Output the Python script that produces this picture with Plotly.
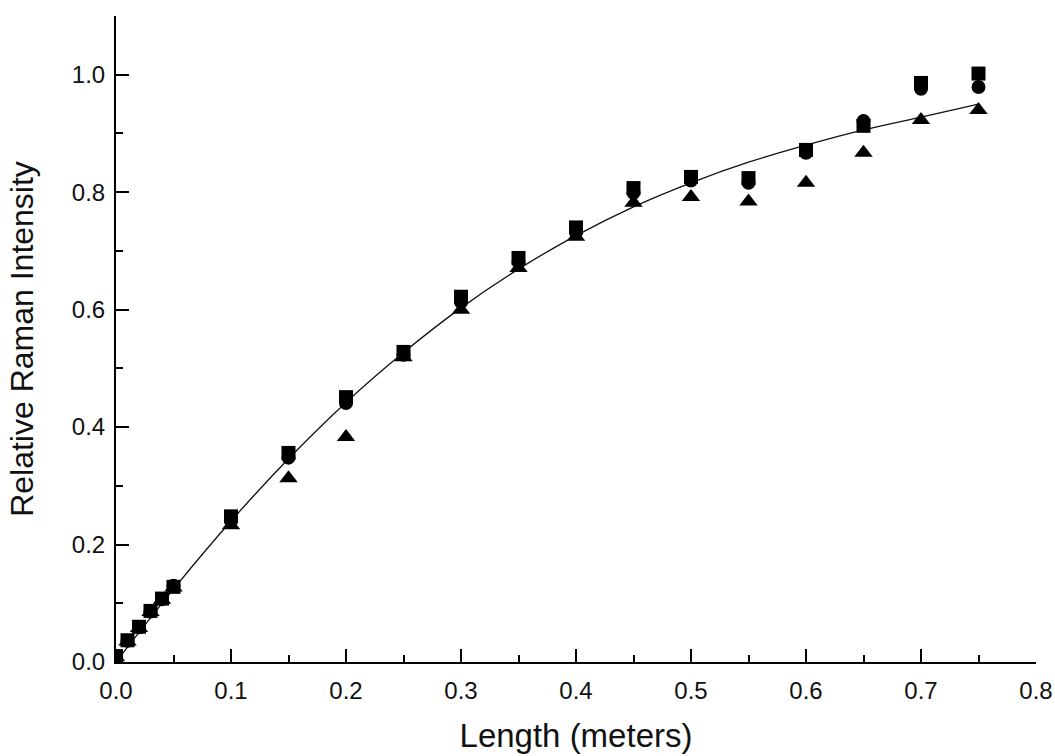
import plotly.graph_objects as go

# Lengths (m) at which Raman intensity was measured
length_m = [0.0, 0.01, 0.02, 0.03, 0.04, 0.05, 0.10, 0.15, 0.20, 0.25, 0.30, 0.35,
            0.40, 0.45, 0.50, 0.55, 0.60, 0.65, 0.70, 0.75]

# Series 1: squares
squares = [0.010, 0.037, 0.060, 0.087, 0.108, 0.128, 0.248, 0.356, 0.451, 0.528, 0.622, 0.688,
           0.740, 0.807, 0.826, 0.824, 0.872, 0.913, 0.986, 1.002]
# Series 2: circles
circles = [0.010, 0.036, 0.059, 0.086, 0.107, 0.130, 0.241, 0.348, 0.441, 0.523, 0.613, 0.681,
           0.732, 0.799, 0.820, 0.816, 0.867, 0.921, 0.976, 0.979]
# Series 3: triangles
triangles = [0.008, 0.035, 0.058, 0.085, 0.106, 0.127, 0.233, 0.313, 0.383, 0.519, 0.600, 0.671,
             0.724, 0.782, 0.792, 0.784, 0.816, 0.867, 0.923, 0.940]

# Fitted curve
fit_x = [0.0, 0.05, 0.10, 0.15, 0.20, 0.25, 0.30, 0.35, 0.40, 0.45, 0.50, 0.55, 0.60, 0.65, 0.70, 0.75]
fit_y = [0.0, 0.124, 0.240, 0.346, 0.442, 0.527, 0.603, 0.669, 0.726, 0.775, 0.816, 0.851,
         0.880, 0.906, 0.928, 0.950]

x_ticks = [0.0, 0.1, 0.2, 0.3, 0.4, 0.5, 0.6, 0.7, 0.8]
y_ticks = [0.0, 0.2, 0.4, 0.6, 0.8, 1.0]

FONT = "Liberation Sans, Arial, sans-serif"

fig = go.Figure()
fig.add_trace(go.Scatter(x=fit_x, y=fit_y, mode="lines", line=dict(color="#111", width=1.3, shape="spline"),
                         showlegend=False, hoverinfo="skip"))
fig.add_trace(go.Scatter(x=length_m, y=triangles, mode="markers",
                         marker=dict(symbol="triangle-up", size=16, color="black"), showlegend=False))
fig.add_trace(go.Scatter(x=length_m, y=circles, mode="markers",
                         marker=dict(symbol="circle", size=14, color="black"), showlegend=False))
fig.add_trace(go.Scatter(x=length_m, y=squares, mode="markers",
                         marker=dict(symbol="square", size=14, color="black"), showlegend=False))

axis_common = dict(
    showline=True, linecolor="black", linewidth=2, mirror=False,
    showgrid=False, zeroline=False,
    ticks="inside", ticklen=13, tickwidth=2, tickcolor="black",
    tickfont=dict(family=FONT, size=24, color="#111"),
    tickformat=".1f",
)

fig.update_xaxes(
    range=[0, 0.8], tickvals=x_ticks,
    minor=dict(ticks="inside", ticklen=7, tickwidth=2, tickcolor="black", dtick=0.05, tick0=0),
    title=dict(text="Length (meters)", font=dict(family=FONT, size=33, color="#111"), standoff=21),
    ticklabelstandoff=6,
    **axis_common,
)
fig.update_yaxes(
    range=[0, 1.1], tickvals=y_ticks,
    minor=dict(ticks="inside", ticklen=7, tickwidth=2, tickcolor="black", dtick=0.1, tick0=0),
    title=dict(text="Relative Raman Intensity", font=dict(family=FONT, size=32, color="#111"), standoff=29),
    ticklabelstandoff=4,
    **axis_common,
)

fig.update_layout(
    width=1055, height=756,
    margin=dict(l=116, r=19, t=16, b=94, autoexpand=False),
    plot_bgcolor="white", paper_bgcolor="white",
)

# remove the page's default body margin so the figure fills the window exactly
fig.write_html("out.html",
               config={"displayModeBar": False},
               post_script="document.body.style.margin='0';document.body.style.overflow='hidden';")
